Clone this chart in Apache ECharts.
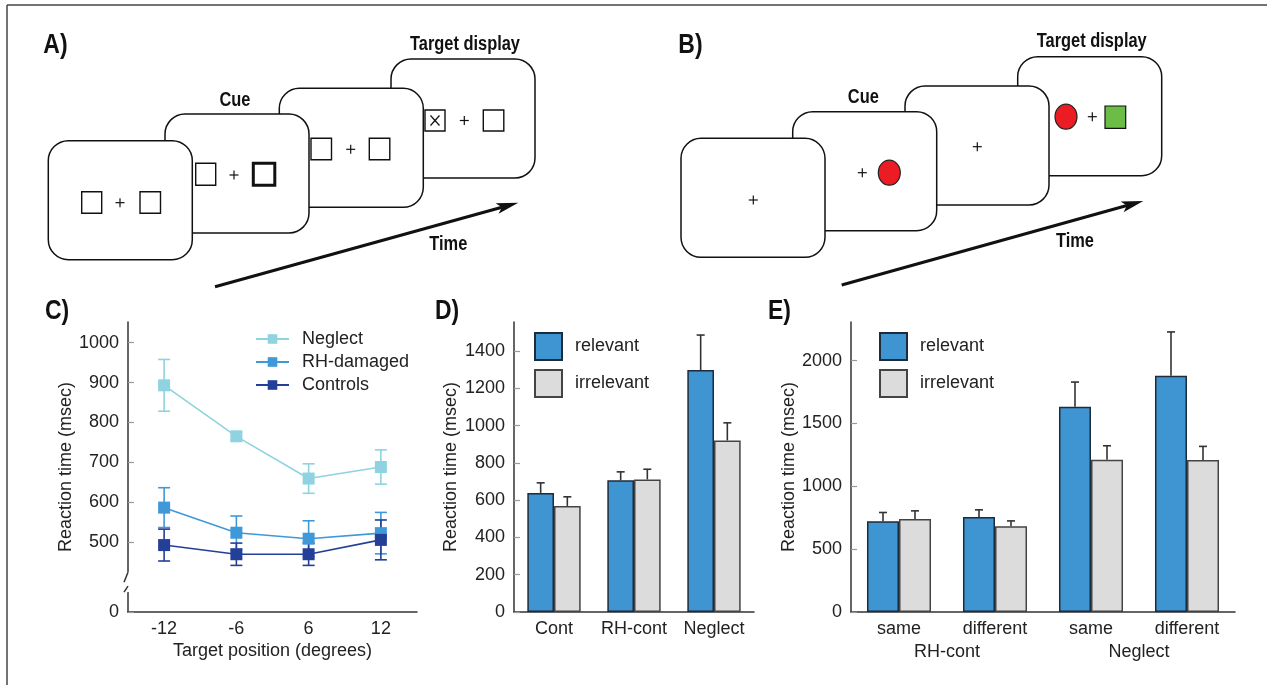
<!DOCTYPE html>
<html><head><meta charset="utf-8">
<script src="https://cdn.jsdelivr.net/npm/echarts@6.0.0/dist/echarts.min.js"></script>
<style>html,body{margin:0;padding:0;background:#fff}#c{width:1267px;height:685px}</style>
</head><body><div id="c"></div>
<script>
// ---- Panel C data ----
const posCategories = ['-12', '-6', '6', '12'];
const neglectRT = [893, 765, 659, 688];
const neglectErr = [65, 10, 37, 43];
const rhDamagedRT = [586, 523, 508, 522];
const rhDamagedErr = [50, 42, 45, 52];
const controlsRT = [492, 469, 469, 505];
const controlsErr = [40, 28, 28, 50];
const cTicks = [0, 500, 600, 700, 800, 900, 1000];

// ---- Panel D data ----
const groupD = ['Cont', 'RH-cont', 'Neglect'];
const relevantD = [639, 707, 1298];
const relevantDErr = [54, 45, 188];
const irrelevantD = [569, 711, 920];
const irrelevantDErr = [49, 55, 95];
const dTicks = [0, 200, 400, 600, 800, 1000, 1200, 1400];

// ---- Panel E data ----
const condE = ['same', 'different', 'same', 'different'];
const groupE = ['RH-cont', 'Neglect'];
const relevantE = [723, 757, 1634, 1881];
const relevantEErr = [69, 56, 196, 348];
const irrelevantE = [741, 683, 1211, 1209];
const irrelevantEErr = [64, 42, 112, 109];
const eTicks = [0, 500, 1000, 1500, 2000];

const FONT = '"Liberation Sans", Arial, sans-serif';
const TXT = '#222';
const COL_NEG = '#8ed3df', COL_RH = '#3f98d7', COL_CTRL = '#233f98';
const COL_REL = '#3f95d2', COL_IRR = '#dcdcdc';

const chart = echarts.init(document.getElementById('c'), null, {renderer: 'canvas'});

function triples(vals, errs) { return vals.map((v, i) => [i, v, errs[i]]); }

function lineErrRender(params, api) {
  const x = api.value(0), y = api.value(1), e = api.value(2);
  const hi = api.coord([x, y + e]);
  const lo = api.coord([x, y - e]);
  const color = api.visual('color');
  const w = 6;
  const st = {stroke: color, lineWidth: 1.6};
  return {type: 'group', children: [
    {type: 'line', shape: {x1: hi[0], y1: hi[1], x2: lo[0], y2: lo[1]}, style: st},
    {type: 'line', shape: {x1: hi[0] - w, y1: hi[1], x2: hi[0] + w, y2: hi[1]}, style: st},
    {type: 'line', shape: {x1: lo[0] - w, y1: lo[1], x2: lo[0] + w, y2: lo[1]}, style: st}
  ]};
}
function barErrRender(sign) {
  return function (params, api) {
    const x = api.value(0), y = api.value(1), e = api.value(2);
    const base = api.coord([x, y]);
    const hi = api.coord([x, y + e]);
    const band = api.size([1, 0])[0];
    const cx = base[0] + sign * band / 6;
    const st = {stroke: '#333', lineWidth: 1.6};
    return {type: 'group', children: [
      {type: 'line', shape: {x1: cx, y1: base[1], x2: cx, y2: hi[1]}, style: st},
      {type: 'line', shape: {x1: cx - 4, y1: hi[1], x2: cx + 4, y2: hi[1]}, style: st}
    ]};
  };
}

const axisLine = {lineStyle: {color: '#333', width: 1.5}};
const tickIn = {inside: true, length: 6, lineStyle: {color: '#999', width: 1.2}};
const lab = {color: TXT, fontSize: 18, fontFamily: FONT};
const nameStyle = {color: TXT, fontSize: 18, fontFamily: FONT};

function yAxis(grid, max, ticks, gap, extra) {
  return Object.assign({
    type: 'value', gridIndex: grid, min: 0, max: max,
    name: 'Reaction time (msec)', nameLocation: 'middle', nameGap: gap, nameTextStyle: nameStyle,
    axisLine: Object.assign({show: true}, axisLine),
    axisTick: Object.assign({show: true, customValues: ticks}, tickIn),
    axisLabel: Object.assign({margin: 9, customValues: ticks, formatter: v => String(v)}, lab),
    splitLine: {show: false}
  }, extra || {});
}

const option = {
  animation: false,
  backgroundColor: '#fff',
  grid: [
    {left: 128, top: 322, width: 289, height: 290},
    {left: 514, top: 322, width: 240, height: 290},
    {left: 851, top: 322, width: 384, height: 290}
  ],
  xAxis: [
    {type: 'category', gridIndex: 0, data: posCategories, boundaryGap: true,
      name: 'Target position (degrees)', nameLocation: 'middle', nameGap: 30, nameTextStyle: nameStyle,
      axisLine: axisLine, axisTick: Object.assign({alignWithLabel: true}, tickIn),
      axisLabel: Object.assign({margin: 8, interval: 0}, lab)},
    {type: 'category', gridIndex: 1, data: groupD, axisLine: axisLine, axisTick: {show: false},
      axisLabel: Object.assign({margin: 8, interval: 0, hideOverlap: false}, lab)},
    {type: 'category', gridIndex: 2, data: condE, axisLine: axisLine, axisTick: {show: false},
      axisLabel: Object.assign({margin: 8, interval: 0}, lab)},
    {type: 'category', gridIndex: 2, data: groupE, position: 'bottom', axisLine: {show: false},
      axisTick: {show: false}, axisLabel: Object.assign({margin: 31, interval: 0}, lab)}
  ],
  yAxis: [
    yAxis(0, 1052, cTicks, 47, {breaks: [{start: 50, end: 424, gap: 50}], breakArea: {show: false}}),
    yAxis(1, 1556, dTicks, 54),
    yAxis(2, 2308, eTicks, 51)
  ],
  legend: [
    {data: ['Neglect', 'RH-damaged', 'Controls'], orient: 'vertical', left: 255, top: 330,
      itemWidth: 33, itemHeight: 12, itemGap: 5, padding: 0,
      textStyle: {color: TXT, fontSize: 18, fontFamily: FONT, padding: [0, 0, 0, 8]}},
    {data: ['relevant', 'irrelevant'], orient: 'vertical', left: 534, top: 332,
      itemWidth: 27, itemHeight: 27, itemGap: 8, padding: 0, icon: 'rect',
      itemStyle: {borderWidth: 2},
      textStyle: {color: TXT, fontSize: 18, fontFamily: FONT, padding: [0, 0, 0, 8]}},
    {data: ['relevant', 'irrelevant'], orient: 'vertical', left: 879, top: 332,
      itemWidth: 27, itemHeight: 27, itemGap: 8, padding: 0, icon: 'rect',
      itemStyle: {borderWidth: 2},
      textStyle: {color: TXT, fontSize: 18, fontFamily: FONT, padding: [0, 0, 0, 8]}}
  ],
  series: [
    {type: 'custom', name: 'NeglectErr', xAxisIndex: 0, yAxisIndex: 0, itemStyle: {color: COL_NEG},
      renderItem: lineErrRender, data: triples(neglectRT, neglectErr), encode: {x: 0, y: 1}},
    {type: 'line', name: 'Neglect', xAxisIndex: 0, yAxisIndex: 0, data: neglectRT, symbol: 'rect', symbolSize: 12,
      itemStyle: {color: COL_NEG}, lineStyle: {color: COL_NEG, width: 1.6}},
    {type: 'custom', name: 'RHErr', xAxisIndex: 0, yAxisIndex: 0, itemStyle: {color: COL_RH},
      renderItem: lineErrRender, data: triples(rhDamagedRT, rhDamagedErr), encode: {x: 0, y: 1}},
    {type: 'line', name: 'RH-damaged', xAxisIndex: 0, yAxisIndex: 0, data: rhDamagedRT, symbol: 'rect', symbolSize: 12,
      itemStyle: {color: COL_RH}, lineStyle: {color: COL_RH, width: 1.6}},
    {type: 'custom', name: 'CtrlErr', xAxisIndex: 0, yAxisIndex: 0, itemStyle: {color: COL_CTRL},
      renderItem: lineErrRender, data: triples(controlsRT, controlsErr), encode: {x: 0, y: 1}},
    {type: 'line', name: 'Controls', xAxisIndex: 0, yAxisIndex: 0, data: controlsRT, symbol: 'rect', symbolSize: 12,
      itemStyle: {color: COL_CTRL}, lineStyle: {color: COL_CTRL, width: 1.6}},

    {type: 'bar', name: 'relevant', xAxisIndex: 1, yAxisIndex: 1, data: relevantD, barGap: '0%', barCategoryGap: '33.3%',
      itemStyle: {color: COL_REL, borderColor: '#1d2b3a', borderWidth: 1.5}},
    {type: 'bar', name: 'irrelevant', xAxisIndex: 1, yAxisIndex: 1, data: irrelevantD, barGap: '0%', barCategoryGap: '33.3%',
      itemStyle: {color: COL_IRR, borderColor: '#444', borderWidth: 1.5}},
    {type: 'custom', name: 'relErrD', xAxisIndex: 1, yAxisIndex: 1, renderItem: barErrRender(-1),
      data: triples(relevantD, relevantDErr), encode: {x: 0, y: 1}},
    {type: 'custom', name: 'irrErrD', xAxisIndex: 1, yAxisIndex: 1, renderItem: barErrRender(1),
      data: triples(irrelevantD, irrelevantDErr), encode: {x: 0, y: 1}},

    {type: 'bar', name: 'relevant', xAxisIndex: 2, yAxisIndex: 2, data: relevantE, barGap: '0%', barCategoryGap: '33.3%',
      itemStyle: {color: COL_REL, borderColor: '#1d2b3a', borderWidth: 1.5}},
    {type: 'bar', name: 'irrelevant', xAxisIndex: 2, yAxisIndex: 2, data: irrelevantE, barGap: '0%', barCategoryGap: '33.3%',
      itemStyle: {color: COL_IRR, borderColor: '#444', borderWidth: 1.5}},
    {type: 'custom', name: 'relErrE', xAxisIndex: 2, yAxisIndex: 2, renderItem: barErrRender(-1),
      data: triples(relevantE, relevantEErr), encode: {x: 0, y: 1}},
    {type: 'custom', name: 'irrErrE', xAxisIndex: 2, yAxisIndex: 2, renderItem: barErrRender(1),
      data: triples(irrelevantE, irrelevantEErr), encode: {x: 0, y: 1}}
  ]
};
chart.setOption(option);

// ---------- Illustrations (panels A and B) and decorations ----------
const G = [];
function screen(x, y) {
  G.push({type: 'rect', shape: {x: x, y: y, width: 144, height: 119, r: 20},
    style: {fill: '#fff', stroke: '#111', lineWidth: 1.5}});
}
function sq(x, y, w, h, lw, fill) {
  G.push({type: 'rect', shape: {x: x, y: y, width: w, height: h},
    style: {fill: fill || 'none', stroke: '#111', lineWidth: lw || 1.4}});
}
function plus(cx, cy) {
  const s = {stroke: '#111', lineWidth: 1.2};
  G.push({type: 'line', shape: {x1: cx - 4.5, y1: cy, x2: cx + 4.5, y2: cy}, style: s});
  G.push({type: 'line', shape: {x1: cx, y1: cy - 4.5, x2: cx, y2: cy + 4.5}, style: s});
}
function btext(cx, cy, t, size, align) {
  G.push({type: 'text', x: cx, y: cy, scaleX: 0.82,
    style: {text: t, font: 'bold ' + (size || 20) + 'px ' + FONT, fill: '#111',
      textAlign: align || 'center', textVerticalAlign: 'middle'}});
}
function arrow(x0, y0, x1, y1) {
  const dx = x1 - x0, dy = y1 - y0, L = Math.hypot(dx, dy);
  const ux = dx / L, uy = dy / L, nx = -uy, ny = ux;
  const hl = 22, hw = 5.5, notch = 17;
  const bx = x1 - hl * ux, by = y1 - hl * uy;
  const mx = x1 - notch * ux, my = y1 - notch * uy;
  G.push({type: 'line', shape: {x1: x0, y1: y0, x2: mx, y2: my}, style: {stroke: '#111', lineWidth: 3}});
  G.push({type: 'polygon', shape: {points: [[x1, y1], [bx + hw * nx, by + hw * ny], [mx, my], [bx - hw * nx, by - hw * ny]]},
    style: {fill: '#111'}});
}

// outer frame
G.push({type: 'line', shape: {x1: 7, y1: 5, x2: 1267, y2: 5}, style: {stroke: '#444', lineWidth: 1.5}});
G.push({type: 'line', shape: {x1: 7, y1: 5, x2: 7, y2: 685}, style: {stroke: '#444', lineWidth: 1.5}});

// Panel A
screen(391, 59); sq(425, 110, 20, 21); plus(464.3, 120.5); sq(483.3, 110, 20.5, 21);
G.push({type: 'line', shape: {x1: 430.5, y1: 115.5, x2: 439.5, y2: 125.5}, style: {stroke: '#111', lineWidth: 1.2}});
G.push({type: 'line', shape: {x1: 439.5, y1: 115.5, x2: 430.5, y2: 125.5}, style: {stroke: '#111', lineWidth: 1.2}});
screen(279.3, 88.3); sq(311, 138.3, 20.5, 21.5); plus(350.7, 149.3); sq(369.3, 138.3, 20.5, 21.5);
screen(165, 114); sq(195.7, 163.3, 20, 22); plus(234, 175); sq(253.3, 163.3, 21.5, 22, 3);
screen(48.3, 140.7); sq(81.7, 191.7, 20, 21.5); plus(120, 202.7); sq(140, 191.7, 20.5, 21.5);
btext(235, 100, 'Cue'); btext(465, 44, 'Target display'); btext(448.3, 244, 'Time');
arrow(215, 286.7, 518.3, 202.7);

// Panel B
screen(1017.7, 56.7);
G.push({type: 'ellipse', shape: {cx: 1066, cy: 116.7, rx: 11, ry: 12.5}, style: {fill: '#ec1c24', stroke: '#222', lineWidth: 1.2}});
plus(1092.3, 116.7); sq(1105, 106, 20.7, 22.3, 1.2, '#6cbd45');
screen(905, 86); plus(977.3, 146.7);
screen(792.7, 111.7); plus(862.3, 172.7);
G.push({type: 'ellipse', shape: {cx: 889.3, cy: 172.7, rx: 11, ry: 12.5}, style: {fill: '#ec1c24', stroke: '#222', lineWidth: 1.2}});
screen(681, 138.3); plus(753.3, 200);
btext(863.3, 97.3, 'Cue'); btext(1091.7, 41.7, 'Target display'); btext(1075, 241.7, 'Time');
arrow(841.7, 285, 1143.3, 201);

// panel letters
btext(43.3, 45, 'A)', 28, 'left'); btext(678.3, 45, 'B)', 28, 'left');
btext(45, 311, 'C)', 28, 'left'); btext(435, 311, 'D)', 28, 'left'); btext(768, 311, 'E)', 28, 'left');

// axis-break marks on panel C's y axis (positions from the axis scale)
const yUp = chart.convertToPixel({yAxisIndex: 0}, 424);
const yLo = chart.convertToPixel({yAxisIndex: 0}, 50);
const axX = 128;
G.push({type: 'rect', shape: {x: axX - 4, y: yUp, width: 8, height: yLo - yUp}, style: {fill: '#fff'}, z: 100});
G.push({type: 'line', shape: {x1: axX, y1: yUp, x2: axX - 4, y2: yUp + 10}, style: {stroke: '#333', lineWidth: 1.5}, z: 101});
G.push({type: 'line', shape: {x1: axX - 4, y1: yLo, x2: axX, y2: yLo - 6}, style: {stroke: '#333', lineWidth: 1.5}, z: 101});

chart.setOption({graphic: G});
</script></body></html>
